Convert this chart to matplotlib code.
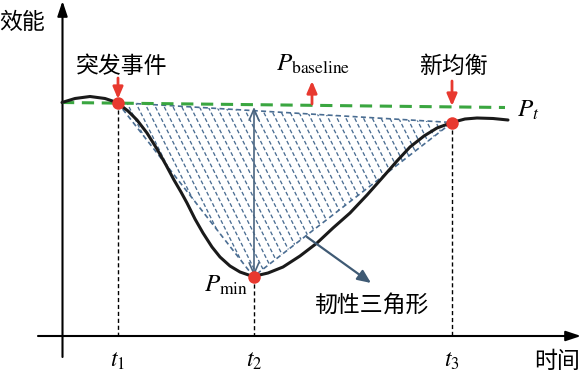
import numpy as np
import matplotlib
matplotlib.use("Agg")
from matplotlib import pyplot as plt
from matplotlib.patches import Polygon

plt.rcParams['font.family'] = ['Noto Sans CJK SC', 'DejaVu Sans']
plt.rcParams['mathtext.fontset'] = 'stix'

# performance curve (pixel space, y downward)
curve_x = [62, 75, 90, 105, 117, 128, 137, 147, 157, 166, 174, 181, 187, 195, 203,
           212, 220, 230, 240, 253, 268, 283, 300, 317, 333, 350, 367, 383, 397,
           410, 424, 437, 452, 465, 477, 493, 508]
curve_y = [102.5, 98.5, 96.5, 98.5, 102.5, 111, 120, 133, 149, 165, 180, 192, 203,
           219, 233, 247, 257, 266, 272, 276.5, 273, 267, 256, 243, 228, 213, 195,
           177, 161, 147, 136, 128, 122.5, 119, 118, 118.5, 120]

# key times and levels
t_x = [118, 254, 452]
t_labels = [r'$t_1$', r'$t_2$', r'$t_3$']
event_pt = (117.5, 102.5)
min_pt = (253.5, 276.5)
new_pt = (452, 122.5)
baseline_x = [62, 505]
baseline_y = [102.5, 107.5]

fig = plt.figure(figsize=(5.81, 3.74), dpi=100)
ax = fig.add_axes([0, 0, 1, 1])
ax.set_xlim(0, 581)
ax.set_ylim(374, 0)
ax.axis('off')

# axes arrows
ax.annotate('', xy=(581, 336), xytext=(38, 336),
            arrowprops=dict(arrowstyle='-|>,head_length=0.9,head_width=0.3', color='black', lw=1.5,
                            shrinkA=0, shrinkB=0))
ax.annotate('', xy=(62.5, 1), xytext=(62.5, 357),
            arrowprops=dict(arrowstyle='-|>,head_length=0.9,head_width=0.3', color='black', lw=1.5,
                            shrinkA=0, shrinkB=0))

# resilience triangle with hatch
tri = [event_pt, min_pt, new_pt]
poly = Polygon(tri, closed=True, fill=False, edgecolor='#4a6d92', lw=1.2, ls=(0, (3, 2)), zorder=3)
ax.add_patch(poly)
clip = Polygon(tri, closed=True, transform=ax.transData, visible=False)
ax.add_patch(clip)
for c in np.arange(20, 600, 8.8):
    ys = np.array([90, 290])
    ln, = ax.plot(c + (ys - 100) / 2.0, ys, color='#4a6d92', lw=0.95, ls=(0, (3, 1.8)), zorder=2)
    ln.set_clip_path(clip)

# baseline
ax.plot(baseline_x, baseline_y, color='#3aa640', lw=2.2, ls=(0, (4, 2.5)), zorder=4)

# curve
ax.plot(curve_x, curve_y, color='#1a1a1a', lw=2.2, solid_capstyle='round', zorder=5)

# dashed verticals
for x, (px, py) in zip(t_x, tri):
    ax.plot([x, x], [py, 336], color='black', lw=1, ls=(0, (3, 2)), zorder=1)

# double arrow Pbaseline - Pmin
ax.annotate('', xy=(254, 107), xytext=(254, 276),
            arrowprops=dict(arrowstyle='<->,head_length=0.8,head_width=0.35', color='#4a6580',
                            lw=1.2, shrinkA=0, shrinkB=0), zorder=6)

# pointer to label
ax.annotate('', xy=(371, 283), xytext=(307, 237),
            arrowprops=dict(arrowstyle='-|>,head_length=0.8,head_width=0.35', color='#3f5a74',
                            lw=1.6, shrinkA=0, shrinkB=0), zorder=6)

# red arrows
red = '#e8392f'
for tail, head in [((118, 78), (118, 99)), ((312, 104), (312, 81)), ((452, 81), (452, 106))]:
    ax.annotate('', xy=head, xytext=tail,
                arrowprops=dict(arrowstyle='-|>,head_length=0.7,head_width=0.3', color=red,
                                lw=2, shrinkA=0, shrinkB=0), zorder=7)

# red points
px_, py_ = zip(*tri)
ax.plot(px_, py_, 'o', color=red, ms=9, mec='none', zorder=8)

# texts
fs = 16.5
ax.text(22, 22, '效能', fontsize=fs, ha='center', va='center')
ax.text(557, 362, '时间', fontsize=fs, ha='center', va='center')
ax.text(122, 66, '突发事件', fontsize=fs, ha='center', va='center')
ax.text(453, 66, '新均衡', fontsize=fs, ha='center', va='center')
ax.text(372, 305, '韧性三角形', fontsize=fs, ha='center', va='center')
ax.text(313, 64, r'$P_{\mathrm{baseline}}$', fontsize=18, ha='center', va='center')
ax.text(528, 110, r'$P_t$', fontsize=18, ha='center', va='center')
ax.text(226, 285, r'$P_{\mathrm{min}}$', fontsize=18, ha='center', va='center')
for x, lab in zip(t_x, t_labels):
    ax.text(x, 360, lab, fontsize=17, ha='center', va='center')

fig.savefig('out.png', dpi=100)
